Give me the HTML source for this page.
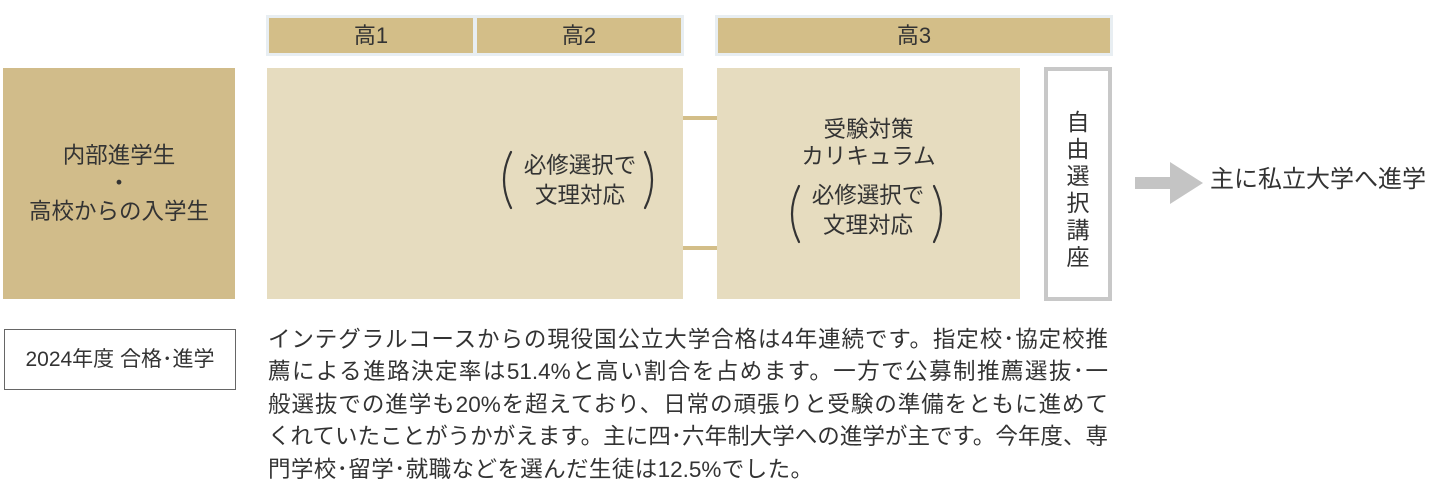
<!DOCTYPE html>
<html><head><meta charset="utf-8"><style>
body{margin:0;width:1440px;height:499px;background:#fff;position:relative;overflow:hidden;font-family:"Liberation Sans","Noto Sans CJK JP",sans-serif;color:#333}
.a{position:absolute}
.hd{position:absolute;background:#d3be88;font-size:22px;text-align:center;line-height:35px;color:#333}
.t{position:absolute;font-size:22.5px;line-height:30px;text-align:center;color:#333}
.p{display:block;width:840px;text-align:justify;text-align-last:justify;white-space:nowrap}
</style></head><body>
<div class="a" style="left:266px;top:15px;width:418px;height:41px;background:#e8eef2"></div>
<div class="hd" style="left:269px;top:18px;width:204px;height:35px">高1</div>
<div class="hd" style="left:477px;top:18px;width:204px;height:35px">高2</div>
<div class="a" style="left:715px;top:15px;width:398px;height:41px;background:#e8eef2"></div>
<div class="hd" style="left:718px;top:18px;width:392px;height:35px">高3</div>

<div class="a" style="left:3px;top:68px;width:232px;height:231px;background:#d1bc8a"></div>
<div class="t" style="left:3px;top:142px;width:232px;line-height:28px">内部進学生<br>・<br>高校からの入学生</div>

<div class="a" style="left:267px;top:68px;width:416px;height:231px;background:#e6dcbf"></div>
<div class="a" style="left:717px;top:68px;width:303px;height:231px;background:#e6dcbf"></div>
<div class="a" style="left:683px;top:116px;width:34px;height:4px;background:#d3be88"></div>
<div class="a" style="left:683px;top:246px;width:34px;height:4px;background:#d3be88"></div>

<div class="t" style="left:508px;top:151px;width:144px">必修選択で<br>文理対応</div>
<div class="t" style="left:717px;top:116px;width:303px;line-height:27px">受験対策<br>カリキュラム</div>
<div class="t" style="left:796px;top:181px;width:144px">必修選択で<br>文理対応</div>
<svg class="a" style="left:0;top:0" width="1440" height="499">
<g fill="none" stroke="#333" stroke-width="2.2" stroke-linecap="round">
<path d="M511 152 Q497 180 511 208"/>
<path d="M645 152 Q659 180 645 208"/>
<path d="M799 186 Q785 214 799 242"/>
<path d="M934 186 Q948 214 934 242"/>
</g>
<polygon points="1135,177 1170,177 1170,162 1203,183 1170,204 1170,189 1135,189" fill="#c4c4c4"/>
</svg>

<div class="a" style="left:1044px;top:67px;width:60px;height:226px;border:4px solid #c8c8c8"></div>
<div class="t" style="left:1048px;top:109px;width:60px;line-height:27px;font-size:23px">自<br>由<br>選<br>択<br>講<br>座</div>
<div class="a" style="left:1210px;top:165px;font-size:24px;line-height:30px">主に私立大学へ進学</div>

<div class="a" style="left:4px;top:329px;width:230px;height:59px;border:1px solid #666;font-size:21px;line-height:59px;text-align:center">2024年度 合格･進学</div>
<div class="a" style="left:268px;top:324px;width:840px;font-size:22.5px;line-height:32.4px">
<span class="p">インテグラルコースからの現役国公立大学合格は4年連続です。指定校･協定校推</span>
<span class="p">薦による進路決定率は51.4%と高い割合を占めます。一方で公募制推薦選抜･一</span>
<span class="p">般選抜での進学も20%を超えており、日常の頑張りと受験の準備をともに進めて</span>
<span class="p">くれていたことがうかがえます。主に四･六年制大学への進学が主です。今年度、専</span>
<span class="p" style="width:545px">門学校･留学･就職などを選んだ生徒は12.5%でした。</span>
</div>
</body></html>
